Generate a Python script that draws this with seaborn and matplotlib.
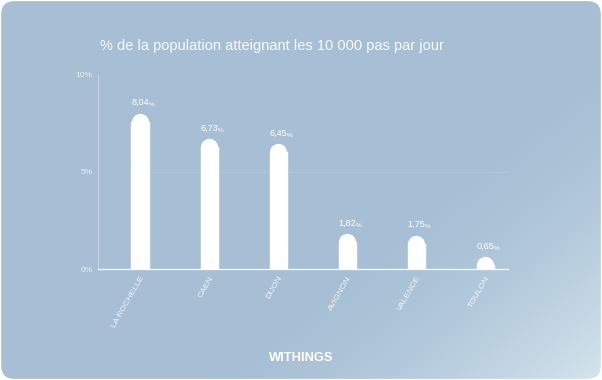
import numpy as np
import pandas as pd
import matplotlib
matplotlib.use("Agg")
import matplotlib.pyplot as plt
import seaborn as sns
from matplotlib.patches import FancyBboxPatch

# --- DATA ---
cities = ["LA ROCHELLE", "CAEN", "DIJON", "AVIGNON", "VALENCE", "TOULON"]
pct = [8.04, 6.73, 6.45, 1.82, 1.75, 0.65]
pct_labels = ["8,04", "6,73", "6,45", "1,82", "1,75", "0,65"]
y_ticks = [0, 5, 10]
y_tick_labels = ["0", "5", "10"]

TITLE = "% de la population atteignant les 10 000 pas par jour"
BRAND = "WITHINGS"

sns.set_theme(style="white")
plt.rcParams["font.family"] = ["Liberation Sans", "DejaVu Sans"]

fig = plt.figure(figsize=(6.02, 3.8), dpi=100)
fig.patch.set_facecolor("white")

# background card with soft gradient (lighter towards bottom right)
bg = fig.add_axes([0, 0, 1, 1])
bg.set_xlim(0, 1)
bg.set_ylim(0, 1)
bg.axis("off")
gx, gy = np.meshgrid(np.linspace(0, 1, 300), np.linspace(0, 1, 190))
c_base = np.array([0.655, 0.749, 0.835])
c_light = np.array([0.83, 0.895, 0.925])
t = np.clip((gx * 0.9 + gy * 0.7 - 1.0) / 0.6, 0, 1) ** 1.6
grad = c_base[None, None, :] * (1 - t[..., None]) + c_light[None, None, :] * t[..., None]
im = bg.imshow(grad, extent=[0, 1, 0, 1], origin="upper", aspect="auto")
card = FancyBboxPatch((0.002, 0.003), 0.996, 0.994,
                      boxstyle="round,pad=0,rounding_size=0.022",
                      mutation_aspect=602 / 380, transform=bg.transAxes,
                      facecolor="none", edgecolor="none")
bg.add_patch(card)
im.set_clip_path(card)

# main chart
ax = fig.add_axes([98 / 602, 1 - 269 / 380, 410 / 602, 194 / 380])
ax.patch.set_alpha(0)

xmin, xmax = -0.61, 5.33
ax.set_xlim(xmin, xmax)
ax.set_ylim(0, 10)

# bar cap radius in data units (half the bar width, converted to y)
bar_w = 0.25
px_x = 410 / (xmax - xmin)
px_y = 194 / 10
cap_px = bar_w * px_x / 2
cap_y = cap_px / px_y

df = pd.DataFrame({"city": cities, "pct": pct})
df["body"] = (df["pct"] - cap_y).clip(lower=0)
sns.barplot(data=df, x="city", y="body", color="white", width=bar_w,
            saturation=1, ax=ax, zorder=3)
# round caps on top of each bar
cap_d_pt = 2 * cap_px * 72 / 100
sns.scatterplot(data=df, x="city", y="body", color="white", s=cap_d_pt ** 2,
                linewidth=0, ax=ax, zorder=3, clip_on=True)
ax.set_xlim(xmin, xmax)
ax.set_ylim(0, 10)

# value labels
for i, (v, lab) in enumerate(zip(pct, pct_labels)):
    ax.text(i + 0.13, v + 0.3, lab, ha="right", va="bottom", color="white",
            fontsize=6.6, zorder=4)
    ax.text(i + 0.13, v + 0.3, "%", ha="left", va="bottom", color="white",
            fontsize=4.6, zorder=4)

# faint reference line at 5%
ax.plot([-0.15, xmax], [5, 5], color="white", alpha=0.12, lw=0.7, zorder=1)

ax.set_yticks(y_ticks)
ax.set_yticklabels([l + "%" for l in y_tick_labels])
ax.tick_params(axis="y", length=0, pad=4, labelsize=6, labelcolor=(1, 1, 1, 0.8))
ax.set_xticks(range(len(cities)))
ax.set_xticklabels(cities, rotation=60, ha="right", rotation_mode="anchor")
ax.tick_params(axis="x", length=0, pad=4, labelsize=6.1, labelcolor=(1, 1, 1, 0.85))
ax.set_xlabel("")
ax.set_ylabel("")

for side in ["top", "right"]:
    ax.spines[side].set_visible(False)
ax.spines["left"].set_color((1, 1, 1, 0.45))
ax.spines["left"].set_linewidth(0.6)
ax.spines["bottom"].set_color("white")
ax.spines["bottom"].set_linewidth(0.9)
ax.spines["bottom"].set_zorder(5)

fig.text(100 / 602, 1 - 46 / 380, TITLE, color=(1, 1, 1, 0.93), fontsize=10.5,
         ha="left", va="center")
fig.text(301 / 602, 1 - 358 / 380, BRAND, color="white", fontsize=9.3,
         fontweight="bold", ha="center", va="center")

fig.savefig("out.png", dpi=100)
